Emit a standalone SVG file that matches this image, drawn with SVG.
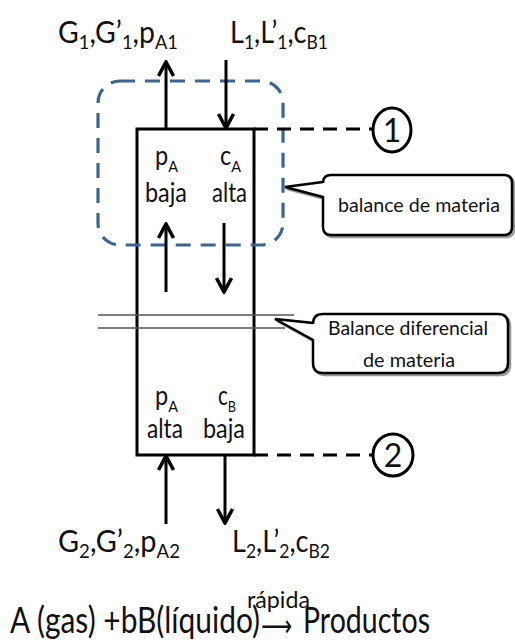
<svg xmlns="http://www.w3.org/2000/svg" width="515" height="643" viewBox="0 0 515 643">
<style>
  text { font-family: Lato, "Open Sans", "Liberation Sans", sans-serif; fill: #111; }
  .lbl { font-size: 31px; }
  .lsub { font-size: 20px; }
  .in { font-size: 26px; }
  .sub { font-size: 16px; }
  .call { font-size: 20px; }
  .ln { stroke: #000; stroke-width: 3; fill: none; }
  .dash { stroke: #000; stroke-width: 3; stroke-dasharray: 14 9; fill: none; }
  .thin { stroke: #555; stroke-width: 1.6; fill: none; }
  .bubble { fill: #fff; stroke: #000; stroke-width: 2.5; }
  .shadow { fill: none; stroke: #999; stroke-width: 2.5; }
</style>
<defs>
  <marker id="ah" viewBox="0 0 18 18" refX="16" refY="9" markerWidth="18" markerHeight="18" markerUnits="userSpaceOnUse" orient="auto">
    <path d="M2,1.5 L16,9 L2,16.5" fill="none" stroke="#000" stroke-width="3.5"/>
  </marker>
</defs>
<rect width="515" height="643" fill="#fff"/>

<g id="column">
  <rect x="137" y="129" width="117" height="326" class="ln"/>
  <text class="in" x="155" y="165" textLength="23" lengthAdjust="spacingAndGlyphs">p<tspan class="sub" dy="7">A</tspan></text>
  <text class="in" x="145" y="202" textLength="42" lengthAdjust="spacingAndGlyphs">baja</text>
  <text class="in" x="220" y="165" textLength="21" lengthAdjust="spacingAndGlyphs">c<tspan class="sub" dy="7">A</tspan></text>
  <text class="in" x="212" y="202" textLength="35" lengthAdjust="spacingAndGlyphs">alta</text>
  <text class="in" x="155" y="405" textLength="23" lengthAdjust="spacingAndGlyphs">p<tspan class="sub" dy="7">A</tspan></text>
  <text class="in" x="147" y="438" textLength="36" lengthAdjust="spacingAndGlyphs">alta</text>
  <text class="in" x="218" y="405" textLength="18" lengthAdjust="spacingAndGlyphs">c<tspan class="sub" dy="7">B</tspan></text>
  <text class="in" x="203" y="438" textLength="42" lengthAdjust="spacingAndGlyphs">baja</text>
</g>

<g id="control-volume">
  <rect x="98" y="81" width="185" height="164" rx="22" ry="22" fill="none" stroke="#3e6592" stroke-width="3.2" stroke-dasharray="15 10"/>
</g>

<g id="differential-slice">
  <line x1="98" y1="315" x2="294" y2="315" class="thin"/>
  <line x1="98" y1="328" x2="285" y2="328" class="thin"/>
</g>

<g id="label-top-gas">
  <text class="lbl" x="58" y="43" textLength="120" lengthAdjust="spacingAndGlyphs">G<tspan class="lsub" dy="6">1</tspan><tspan dy="-6">,G’</tspan><tspan class="lsub" dy="6">1</tspan><tspan dy="-6">,p</tspan><tspan class="lsub" dy="6">A1</tspan></text>
</g>
<g id="label-top-liquid">
  <text class="lbl" x="230" y="43" textLength="98" lengthAdjust="spacingAndGlyphs">L<tspan class="lsub" dy="6">1</tspan><tspan dy="-6">,L’</tspan><tspan class="lsub" dy="6">1</tspan><tspan dy="-6">,c</tspan><tspan class="lsub" dy="6">B1</tspan></text>
</g>
<g id="label-bottom-gas">
  <text class="lbl" x="58" y="552" textLength="122" lengthAdjust="spacingAndGlyphs">G<tspan class="lsub" dy="6">2</tspan><tspan dy="-6">,G’</tspan><tspan class="lsub" dy="6">2</tspan><tspan dy="-6">,p</tspan><tspan class="lsub" dy="6">A2</tspan></text>
</g>
<g id="label-bottom-liquid">
  <text class="lbl" x="232" y="552" textLength="98" lengthAdjust="spacingAndGlyphs">L<tspan class="lsub" dy="6">2</tspan><tspan dy="-6">,L’</tspan><tspan class="lsub" dy="6">2</tspan><tspan dy="-6">,c</tspan><tspan class="lsub" dy="6">B2</tspan></text>
</g>

<g id="point-1">
  <ellipse cx="392" cy="130" rx="19" ry="22" fill="#fff" stroke="#000" stroke-width="3"/>
  <text x="392" y="142" font-size="32" text-anchor="middle">1</text>
</g>
<g id="point-2">
  <ellipse cx="393" cy="455" rx="20" ry="21" fill="#fff" stroke="#000" stroke-width="3"/>
  <text x="393" y="467" font-size="32" text-anchor="middle">2</text>
</g>

<g id="callout-balance">
  <path class="shadow" transform="translate(2,2)" d="M331,175 H504 Q512,175 512,183 V227 Q512,235 504,235 H331 Q323,235 323,227 V197 L285,187 L323,182 V183 Q323,175 331,175 Z"/>
  <path class="bubble" d="M331,175 H504 Q512,175 512,183 V227 Q512,235 504,235 H331 Q323,235 323,227 V197 L285,187 L323,182 V183 Q323,175 331,175 Z"/>
  <text class="call" x="338" y="212" textLength="162" lengthAdjust="spacingAndGlyphs">balance de materia</text>
</g>

<g id="callout-differential">
  <path class="shadow" transform="translate(2,2)" d="M323,314 H498 Q508,314 508,324 V363 Q508,373 498,373 H323 Q313,373 313,363 V340 L275,319 L313,323 V324 Q313,314 323,314 Z"/>
  <path class="bubble" d="M323,314 H498 Q508,314 508,324 V363 Q508,373 498,373 H323 Q313,373 313,363 V340 L275,319 L313,323 V324 Q313,314 323,314 Z"/>
  <text class="call" x="328" y="335" textLength="160" lengthAdjust="spacingAndGlyphs">Balance diferencial</text>
  <text class="call" x="363" y="367" textLength="92" lengthAdjust="spacingAndGlyphs">de materia</text>
</g>

<g id="connectors">
  <line x1="166" y1="129" x2="166" y2="62" class="ln" marker-end="url(#ah)"/>
  <line x1="226" y1="60" x2="226" y2="128" class="ln" marker-end="url(#ah)"/>
  <line x1="166" y1="292" x2="166" y2="224" class="ln" marker-end="url(#ah)"/>
  <line x1="224" y1="223" x2="224" y2="292" class="ln" marker-end="url(#ah)"/>
  <line x1="166" y1="524" x2="166" y2="456" class="ln" marker-end="url(#ah)"/>
  <line x1="225" y1="455" x2="225" y2="523" class="ln" marker-end="url(#ah)"/>
  <line x1="254" y1="129" x2="373" y2="129" class="dash"/>
  <line x1="254" y1="455" x2="373" y2="455" class="dash"/>
</g>

<g id="equation">
  <text x="10" y="633" font-size="36" textLength="250" lengthAdjust="spacingAndGlyphs">A (gas) +bB(líquido)</text>
  <text x="247" y="608" font-size="24" textLength="63" lengthAdjust="spacingAndGlyphs">rápida</text>
  <text x="261" y="636" font-size="30" textLength="31" lengthAdjust="spacingAndGlyphs" style="font-family:'DejaVu Sans',sans-serif">⟶</text>
  <text x="303" y="633" font-size="36" textLength="127" lengthAdjust="spacingAndGlyphs">Productos</text>
</g>
</svg>
